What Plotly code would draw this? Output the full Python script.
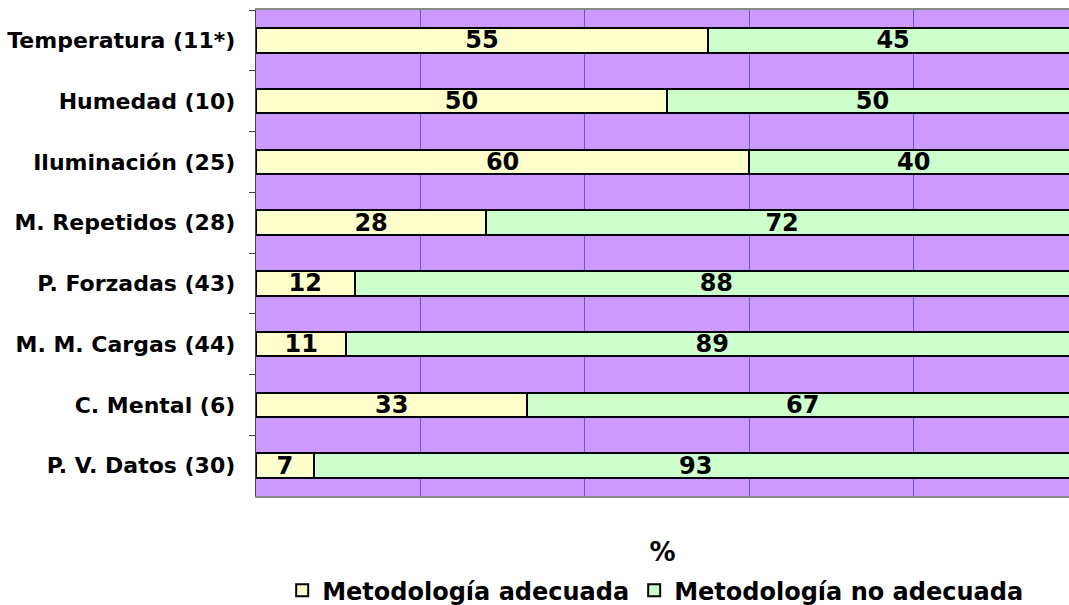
import plotly.graph_objects as go

categories = ["Temperatura (11*)", "Humedad (10)", "Iluminación (25)", "M. Repetidos (28)",
              "P. Forzadas (43)", "M. M. Cargas (44)", "C. Mental (6)", "P. V. Datos (30)"]
adecuada = [55, 50, 60, 28, 12, 11, 33, 7]
no_adecuada = [45, 50, 40, 72, 88, 89, 67, 93]

FONT = "DejaVu Sans"

fig = go.Figure()
fig.add_trace(go.Bar(
    y=categories, x=adecuada, orientation="h", name="Metodología adecuada",
    marker=dict(color="#FFFFCC", line=dict(color="black", width=2)),
    text=[str(v) for v in adecuada], textposition="inside", insidetextanchor="middle",
    textangle=0, textfont=dict(family=FONT, size=24, color="black", weight="bold"),
))
fig.add_trace(go.Bar(
    y=categories, x=no_adecuada, orientation="h", name="Metodología no adecuada",
    marker=dict(color="#CCFFCC", line=dict(color="black", width=2)),
    text=[str(v) for v in no_adecuada], textposition="inside", insidetextanchor="middle",
    textangle=0, textfont=dict(family=FONT, size=24, color="black", weight="bold"),
))

fig.update_layout(
    width=1069, height=605,
    barmode="stack", bargap=0.6,
    plot_bgcolor="#CC99FF", paper_bgcolor="white",
    margin=dict(l=256, r=0, t=10, b=109, autoexpand=False),
    font=dict(family=FONT, color="black"),
    uniformtext=dict(minsize=24, mode="show"),
    legend=dict(orientation="h", x=0.491, xanchor="center", y=-0.195, yanchor="middle",
                font=dict(family=FONT, size=24, weight="bold"), traceorder="normal",
                itemwidth=30, tracegroupgap=0),
    xaxis=dict(range=[0, 98.9], showticklabels=False, ticks="", showgrid=True,
               gridcolor="#6A55CC", gridwidth=1, dtick=20, zeroline=False,
               showline=True, linecolor="#888888", linewidth=2, mirror=True,
               title=dict(text="%", font=dict(family=FONT, size=26, weight="bold"), standoff=46)),
    yaxis=dict(autorange="reversed", ticks="outside", tickson="boundaries", ticklen=6,
               tickcolor="#444444", showline=True, linecolor="#444444", linewidth=1,
               tickfont=dict(family=FONT, size=22, weight="bold"), ticksuffix="  "),
)

fig.write_html("out.html", config={"displayModeBar": False},
               post_script="document.body.style.margin='0';document.body.style.overflow='hidden';")
